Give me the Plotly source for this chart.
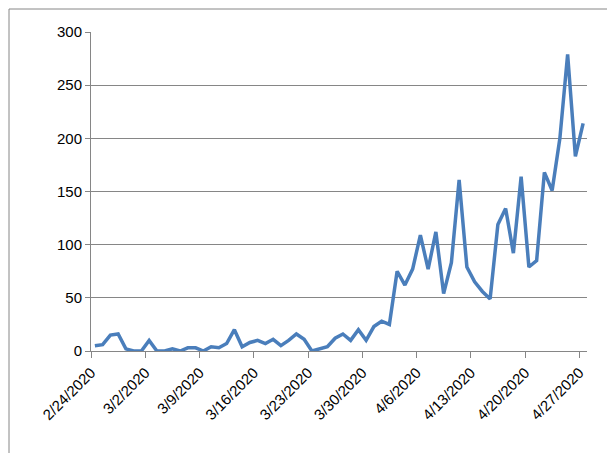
import plotly.graph_objects as go
import pandas as pd

start_date = "2020-02-24"
values = [5, 6, 15, 16, 2, 0, 0, 10, 0, 0, 2, 0, 3, 3, 0, 4, 3, 7, 20, 4,
          8, 10, 7, 11, 5, 10, 16, 11, 0, 2, 4, 12, 16, 10, 20, 10, 23, 28, 25, 75,
          62, 77, 109, 77, 112, 54, 83, 161, 79, 65, 56, 49, 119, 134, 92, 164, 79, 85, 168, 151,
          200, 279, 183, 214]
tick_labels = ["2/24/2020", "3/2/2020", "3/9/2020", "3/16/2020", "3/23/2020",
               "3/30/2020", "4/6/2020", "4/13/2020", "4/20/2020", "4/27/2020"]
y_ticks = [0, 50, 100, 150, 200, 250, 300]

dates = pd.date_range(start_date, periods=len(values), freq="D")
tick_dates = [pd.Timestamp(t) - pd.Timedelta(hours=12) for t in pd.to_datetime(tick_labels, format="%m/%d/%Y")]

fig = go.Figure(go.Scatter(x=dates, y=values, mode="lines",
                           line=dict(color="#4A7EBB", width=3.5)))

L, R, T, B = 83, 579, 24, 343
W, H = 615, 453
pw, ph = R - L, B - T
fig.update_layout(
    width=W, height=H, margin=dict(l=L, r=W - R, t=T, b=H - B),
    paper_bgcolor="white", plot_bgcolor="white", showlegend=False,
    font=dict(family="Liberation Sans, Arial", size=15, color="black"),
    xaxis=dict(range=[dates[0] - pd.Timedelta(hours=12), dates[-1] + pd.Timedelta(hours=12)],
               tickvals=tick_dates, ticktext=tick_labels, tickangle=-45, automargin=False,
               showgrid=False, showline=True, linecolor="#868686", linewidth=1,
               ticks="outside", ticklen=6, tickcolor="#868686"),
    yaxis=dict(range=[0, 300], tickvals=y_ticks, showgrid=True, gridcolor="#868686",
               gridwidth=1, showline=True, linecolor="#868686", zeroline=False, automargin=False,
               ticks="outside", ticklen=5, tickcolor="#868686"),
    shapes=[dict(type="rect", xref="paper", yref="paper",
                 x0=(1 - L) / pw, x1=(613 - L) / pw, y0=(B - 451) / ph, y1=(B - 1) / ph,
                 line=dict(color="#868686", width=1))],
)
fig.write_html("out.html")
